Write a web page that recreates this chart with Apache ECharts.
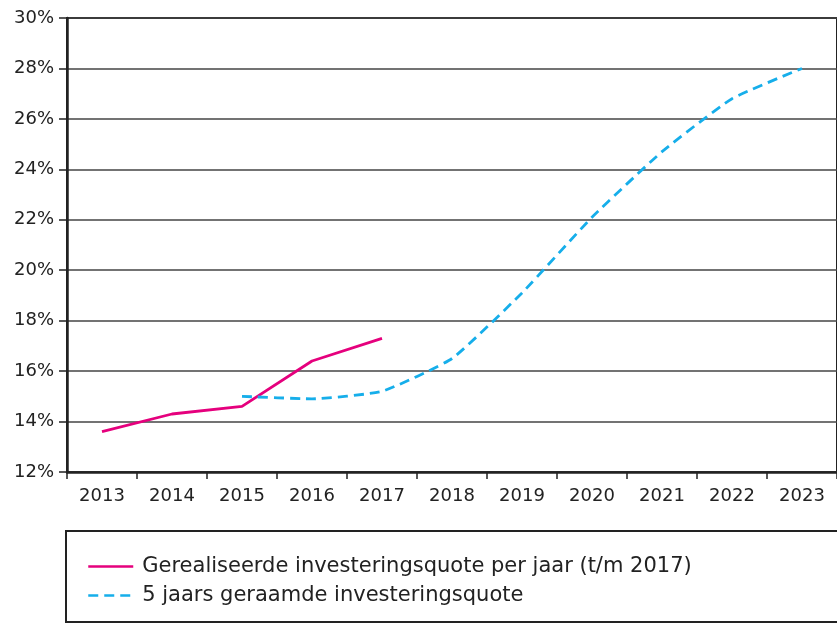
<!DOCTYPE html>
<html>
<head>
<meta charset="utf-8">
<script src="https://cdn.jsdelivr.net/npm/echarts@6/dist/echarts.min.js"></script>
<style>
  html, body { margin: 0; padding: 0; background: #fff; }
  #chart { width: 837px; height: 624px; }
</style>
</head>
<body>
<div id="chart"></div>
<script>
// jaren en waarden (in %)
var jaren = ['2013', '2014', '2015', '2016', '2017', '2018', '2019', '2020', '2021', '2022', '2023'];
var gerealiseerd = [13.6, 14.3, 14.6, 16.4, 17.3, null, null, null, null, null, null];
var geraamd = [null, null, 15.0, 14.9, 15.2, 16.5, 19.1, 22.1, 24.7, 26.8, 28.0];
var namen = ['Gerealiseerde investeringsquote per jaar (t/m 2017)', '5 jaars geraamde investeringsquote'];

var chart = echarts.init(document.getElementById('chart'));
var fnt = '"DejaVu Sans", sans-serif';

chart.setOption({
    animation: false,
    textStyle: { fontFamily: fnt },
    grid: {
        left: 67, top: 18, width: 771, height: 454,
        show: true, borderWidth: 2, borderColor: '#222'
    },
    legend: {
        orient: 'vertical',
        left: 82, top: 551,
        itemWidth: 45, itemHeight: 14, itemGap: 8,
        itemStyle: { opacity: 0 },
        lineStyle: { width: 2.5 },
        textStyle: { fontSize: 21, color: '#222', fontFamily: fnt, padding: [0, 0, 0, 4] },
        data: namen
    },
    graphic: [{
        type: 'rect',
        shape: { x: 66, y: 531, width: 800, height: 91 },
        style: { fill: 'none', stroke: '#222', lineWidth: 2 }
    }],
    xAxis: {
        type: 'category',
        data: jaren,
        boundaryGap: true,
        axisLine: { lineStyle: { color: '#222', width: 2.5 } },
        axisTick: { show: true, length: 7, lineStyle: { color: '#222', width: 1.5 } },
        axisLabel: { fontSize: 18, color: '#222', margin: 15 }
    },
    yAxis: {
        type: 'value',
        min: 12, max: 30, interval: 2,
        axisLine: { show: true, lineStyle: { color: '#222', width: 2.5 } },
        axisTick: { show: true, length: 8, lineStyle: { color: '#222', width: 1.5 } },
        axisLabel: { fontSize: 18, color: '#222', margin: 13, formatter: '{value}%' },
        splitLine: { lineStyle: { color: '#444', width: 1.5 } }
    },
    series: [{
        name: namen[0],
        type: 'line',
        data: gerealiseerd,
        symbol: 'none',
        lineStyle: { color: '#e5007d', width: 2.8 },
        itemStyle: { color: '#e5007d' }
    }, {
        name: namen[1],
        type: 'line',
        data: geraamd,
        symbol: 'none',
        smooth: 0.15,
        lineStyle: { color: '#16aeea', width: 2.8, type: [10, 6] },
        itemStyle: { color: '#16aeea' }
    }]
});
</script>
</body>
</html>
